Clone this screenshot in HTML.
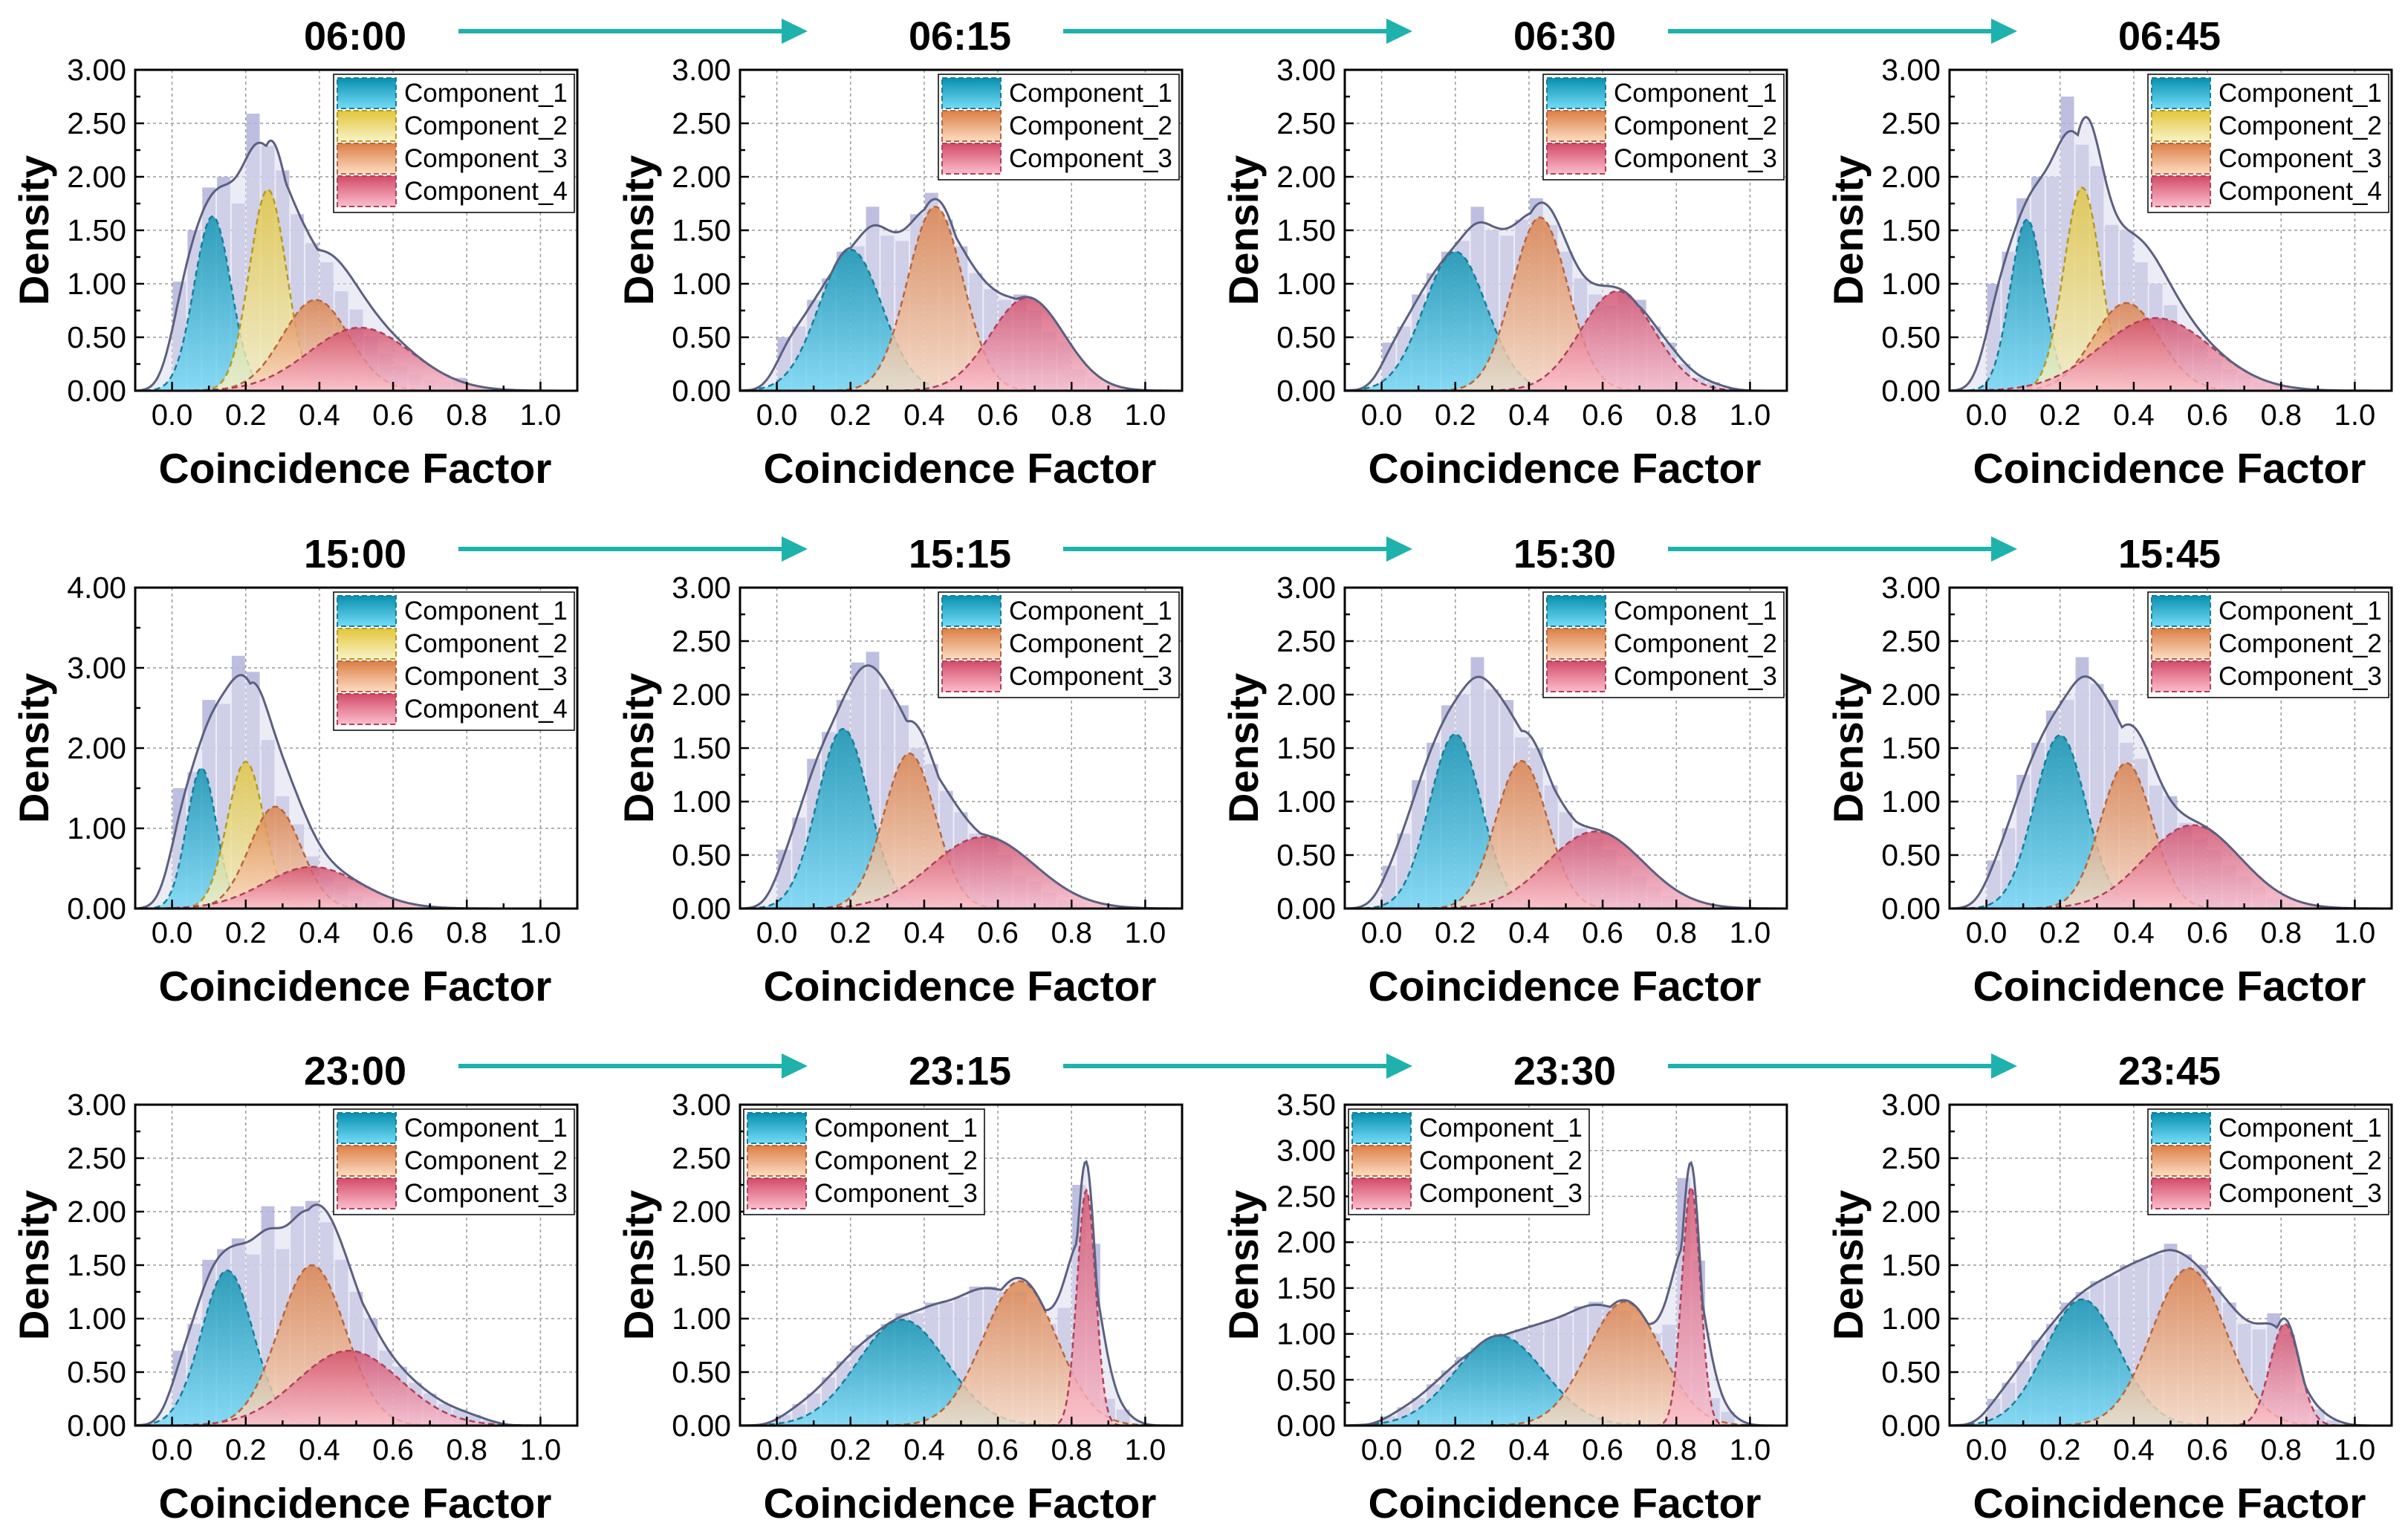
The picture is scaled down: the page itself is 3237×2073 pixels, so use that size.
<!DOCTYPE html>
<html><head><meta charset="utf-8"><style>
html,body{margin:0;padding:0;background:#fff;}
svg{display:block;}
text{font-family:"Liberation Sans",Arial,sans-serif;}
</style></head><body>
<svg id="fig" width="3237" height="2073" viewBox="0 0 3237 2073" xmlns="http://www.w3.org/2000/svg">
<defs>
<linearGradient id="g-c1" x1="0" y1="0" x2="0" y2="1"><stop offset="0" stop-color="#0790ae"/><stop offset="1" stop-color="#74dbf7"/></linearGradient>
<linearGradient id="g-c2" x1="0" y1="0" x2="0" y2="1"><stop offset="0" stop-color="#e2c63a"/><stop offset="1" stop-color="#f9f2c6"/></linearGradient>
<linearGradient id="g-c3" x1="0" y1="0" x2="0" y2="1"><stop offset="0" stop-color="#dc7f45"/><stop offset="1" stop-color="#fcdcc2"/></linearGradient>
<linearGradient id="g-c4" x1="0" y1="0" x2="0" y2="1"><stop offset="0" stop-color="#d24b68"/><stop offset="1" stop-color="#fbbdcc"/></linearGradient>
</defs>
</svg>
<script>
// ---- data ----
const panelTitles = ["06:00","06:15","06:30","06:45","15:00","15:15","15:30","15:45","23:00","23:15","23:30","23:45"];
const yMaxes = [3,3,3,3,4,3,3,3,3,3,3.5,3];
const yMajorSteps = [0.5,0.5,0.5,0.5,1,0.5,0.5,0.5,0.5,0.5,0.5,0.5];
const xTicks = [0.0,0.2,0.4,0.6,0.8,1.0];
const binWidth = 0.04;
const compColors = [[0,1,2,3],[0,2,3],[0,2,3],[0,1,2,3],[0,1,2,3],[0,2,3],[0,2,3],[0,2,3],[0,2,3],[0,2,3],[0,2,3],[0,2,3]];
const legendLeft = [false,false,false,false,false,false,false,false,false,true,true,false];
const compMeans = [[0.11,0.26,0.39,0.51],[0.20,0.43,0.68],[0.20,0.43,0.64],[0.11,0.26,0.38,0.46],[0.08,0.20,0.28,0.38],[0.18,0.36,0.56],[0.20,0.38,0.58],[0.20,0.38,0.56],[0.15,0.38,0.48],[0.34,0.66,0.84],[0.32,0.66,0.84],[0.26,0.55,0.81]];
const compSds = [[0.05,0.05,0.09,0.14],[0.085,0.075,0.10],[0.085,0.075,0.10],[0.045,0.05,0.09,0.15],[0.04,0.05,0.07,0.13],[0.07,0.07,0.14],[0.07,0.07,0.13],[0.07,0.07,0.13],[0.07,0.09,0.14],[0.12,0.10,0.025],[0.12,0.10,0.025],[0.10,0.10,0.04]];
const compPeaks = [[1.63,1.88,0.85,0.59],[1.32,1.72,0.87],[1.30,1.62,0.93],[1.60,1.90,0.82,0.68],[1.75,1.83,1.27,0.52],[1.68,1.45,0.67],[1.63,1.38,0.72],[1.62,1.36,0.78],[1.45,1.50,0.70],[0.99,1.35,2.20],[0.98,1.35,2.60],[1.18,1.47,0.95]];
const hist0 = [1.02,1.5,1.9,2.0,1.75,2.59,2.29,2.06,1.65,1.38,1.2,0.93,0.76,0.51,0.35,0.23,0.15,0.1,0.08,0.12,0.03,0,0,0,0,0,0];
const hist1 = [0.5,0.6,0.85,1.05,1.3,1.35,1.72,1.45,1.4,1.65,1.85,1.6,1.35,1.1,0.95,0.85,0.9,0.75,0.55,0.45,0.2,0.12,0.05,0.02,0,0,0];
const hist2 = [0.45,0.6,0.9,1.1,1.3,1.4,1.72,1.5,1.45,1.6,1.8,1.55,1.3,1.05,0.9,0.8,0.9,0.85,0.6,0.45,0.25,0.12,0.08,0.02,0,0,0];
const hist3 = [1.0,1.3,1.8,2.0,2.0,2.75,2.3,2.1,1.55,1.5,1.2,1.0,0.8,0.55,0.45,0.3,0.2,0.15,0.08,0.05,0.03,0,0,0,0,0,0];
const hist4 = [1.5,1.7,2.6,2.55,3.15,2.95,2.1,1.4,1.05,0.65,0.4,0.3,0.15,0.1,0.05,0.02,0,0,0,0,0,0,0,0,0,0,0];
const hist5 = [0.55,0.85,1.4,1.65,1.95,2.3,2.4,2.05,1.9,1.5,1.35,1.1,0.9,0.7,0.65,0.5,0.3,0.25,0.15,0.08,0.05,0,0,0,0,0,0];
const hist6 = [0.4,0.7,1.2,1.55,1.9,2.0,2.35,2.05,1.95,1.6,1.5,1.15,0.9,0.75,0.65,0.55,0.4,0.3,0.2,0.12,0.05,0,0,0,0,0,0];
const hist7 = [0.45,0.75,1.25,1.55,1.85,1.95,2.35,2.1,1.95,1.55,1.4,1.15,1.05,0.8,0.65,0.55,0.4,0.3,0.2,0.1,0.05,0,0,0,0,0,0];
const hist8 = [0.7,0.95,1.55,1.65,1.75,1.6,2.05,1.65,2.05,2.1,1.9,1.55,1.25,1.0,0.7,0.55,0.4,0.3,0.2,0.15,0.1,0.05,0,0,0,0,0];
const hist9 = [0.1,0.2,0.3,0.45,0.6,0.75,0.85,0.95,1.05,1.05,1.15,1.15,1.2,1.3,1.3,1.25,1.25,1.15,0.95,1.1,2.25,1.7,0.25,0.15,0,0,0];
const hist10 = [0.1,0.2,0.3,0.45,0.6,0.75,0.85,0.95,1.0,1.05,1.1,1.15,1.2,1.3,1.35,1.3,1.25,1.15,1.0,1.1,2.7,1.8,0.3,0.15,0,0,0];
const hist11 = [0.25,0.4,0.6,0.8,0.95,1.15,1.25,1.35,1.4,1.5,1.55,1.6,1.7,1.6,1.5,1.3,1.15,0.95,0.9,1.05,0.85,0.3,0.15,0.05,0,0,0];
const hists = [hist0,hist1,hist2,hist3,hist4,hist5,hist6,hist7,hist8,hist9,hist10,hist11];
const kdeBandwidth = 0.035;

// ---- layout ----
const NS = "http://www.w3.org/2000/svg";
const svg = document.getElementById('fig');
const colLeft = [182,996,1810,2624];
const rowTop = [94,791,1487];
const PW = 595, PH = 432, XMIN = -0.1, XMAX = 1.1;
const strokeCols = ["#157f99","#b59a22","#b8663a","#b0405a"];
const gradIds = ["g-c1","g-c2","g-c3","g-c4"];
function mk(tag, attrs, parent){ const e=document.createElementNS(NS,tag); for(const k in attrs) e.setAttribute(k,attrs[k]); (parent||svg).appendChild(e); return e; }
function gauss(x,m,s,p){ return p*Math.exp(-0.5*((x-m)/s)**2); }

for(let p=0;p<12;p++){
  const L = colLeft[p%4], T = rowTop[Math.floor(p/4)];
  const ymax = yMaxes[p];
  const X = v => L + (v-XMIN)/(XMAX-XMIN)*PW;
  const Y = v => T + PH - v/ymax*PH;
  const g = mk('g',{});
  
  
  const tt = mk('text',{x:L+296,y:T-27,'text-anchor':'middle','font-size':54,'font-weight':'bold'},g);
  tt.textContent = panelTitles[p];
  
  
  if(p%4!==3){
    const ar = mk('line',{x1:L+435,y1:T-52,x2:L+880,y2:T-52,stroke:'#1fb2ad','stroke-width':6},g);
    
    
    mk('path',{d:`M${L+870},${T-69} L${L+905},${T-52} L${L+870},${T-35} z`,fill:'#1fb2ad'},g);
  }
  const cp = mk('clipPath',{id:'clip'+p},g);
  mk('rect',{x:L,y:T,width:PW,height:PH},cp);
  const step = yMajorSteps[p];
  for(let v=step; v<ymax-1e-9; v+=step){
    const gl = mk('line',{x1:L,x2:L+PW,y1:Y(v),y2:Y(v),stroke:'#9a9a9a','stroke-width':1.5,'stroke-dasharray':'4,4'},g);
    
    
  }
  for(const v of xTicks){
    const gl = mk('line',{x1:X(v),x2:X(v),y1:T,y2:T+PH,stroke:'#9a9a9a','stroke-width':1.5,'stroke-dasharray':'4,4'},g);
    
    
  }
  const inner = mk('g',{'clip-path':`url(#clip${p})`},g);
  const h = hists[p];
  for(let i=0;i<h.length;i++){
    if(h[i]<=0) continue;
    const b = mk('rect',{x:X(i*binWidth)+1,y:Y(h[i]),width:X(binWidth)-X(0)-2,height:Y(0)-Y(h[i]),fill:'#b3b3dc','fill-opacity':0.85},inner);
    
    
  }
  const ms = compMeans[p], ss = compSds[p], ps = compPeaks[p];
  const N = 300;
  let tot = [];
  for(let k=0;k<=N;k++){
    const x = XMIN + (XMAX-XMIN)*k/N;
    let s = 0; for(let c=0;c<ms.length;c++) s += gauss(x,ms[c],ss[c],ps[c]);
    let kde = 0;
    for(let i=0;i<h.length;i++){
      const ctr = (i+0.5)*binWidth;
      kde += h[i]*binWidth*Math.exp(-0.5*((x-ctr)/kdeBandwidth)**2)/(kdeBandwidth*Math.sqrt(2*Math.PI));
    }
    tot.push([X(x),Y(Math.max(s,kde))]);
  }
  const totPts = tot.map(q=>q[0].toFixed(1)+','+q[1].toFixed(1)).join(' L');
  const tf = mk('path',{d:`M${X(XMIN)},${Y(0)} L${totPts} L${X(XMAX)},${Y(0)} z`,fill:'#dcdcee','fill-opacity':0.55},inner);
  
  
  for(let c=0;c<ms.length;c++){
    let pts=[];
    for(let k=0;k<=N;k++){ const x = XMIN+(XMAX-XMIN)*k/N; pts.push(X(x).toFixed(1)+','+Y(gauss(x,ms[c],ss[c],ps[c])).toFixed(1)); }
    const ci = compColors[p][c];
    const cpth = mk('path',{d:`M${X(XMIN)},${Y(0)} L${pts.join(' L')} L${X(XMAX)},${Y(0)} z`,fill:`url(#${gradIds[ci]})`,'fill-opacity':0.8,stroke:strokeCols[ci],'stroke-width':2.5,'stroke-dasharray':'8,5'},inner);
    
    
  }
  const tl = mk('path',{d:`M${totPts}`,fill:'none',stroke:'#5b6080','stroke-width':3},inner);
  
  
  const fr = mk('rect',{x:L,y:T,width:PW,height:PH,fill:'none',stroke:'#000','stroke-width':3},g);
  
  
  for(let v=0; v<=ymax+1e-9; v+=step/2){
    const major = Math.abs(v/step-Math.round(v/step))<1e-6;
    mk('line',{x1:L,x2:L+(major?12:7),y1:Y(v),y2:Y(v),stroke:'#000','stroke-width':2.5},g);
    if(major){
      const t = mk('text',{x:L-12,y:Y(v)+14,'text-anchor':'end','font-size':41},g);
      t.textContent = v.toFixed(2);
      
      
    }
  }
  for(const v of xTicks){
    mk('line',{x1:X(v),x2:X(v),y1:T+PH,y2:T+PH-12,stroke:'#000','stroke-width':2.5},g);
    const t = mk('text',{x:X(v),y:T+PH+46,'text-anchor':'middle','font-size':40},g);
    t.textContent = v.toFixed(1);
    
    
  }
  for(let v=0.1; v<1.1; v+=0.2){ mk('line',{x1:X(v),x2:X(v),y1:T+PH,y2:T+PH-7,stroke:'#000','stroke-width':2.5},g); }
  const xt = mk('text',{x:L+296,y:T+PH+124,'text-anchor':'middle','font-size':57,'font-weight':'bold'},g);
  xt.textContent = 'Coincidence Factor';
  
  
  const yt = mk('text',{x:0,y:0,'text-anchor':'middle','font-size':56,'font-weight':'bold',transform:`translate(${L-117},${T+PH/2}) rotate(-90)`},g);
  yt.textContent = 'Density';
  
  
  const nC = ms.length, LW = 324, LH = nC*44+10;
  const lx = legendLeft[p] ? L+5 : L+PW-LW-4, ly = T+6;
  const lg = mk('g',{},g);
  
  
  mk('rect',{x:lx,y:ly,width:LW,height:LH,fill:'#fff',stroke:'#000','stroke-width':1.5},lg);
  for(let c=0;c<nC;c++){
    const ci = compColors[p][c];
    const ey = ly+5+c*44;
    const sw = mk('rect',{x:lx+5,y:ey,width:79,height:41,fill:`url(#${gradIds[ci]})`,stroke:strokeCols[ci],'stroke-width':2,'stroke-dasharray':'7,4'},lg);
    
    
    const lt = mk('text',{x:lx+95,y:ey+32,'font-size':35},lg);
    lt.textContent = 'Component_'+(c+1);
    
    
  }
}
</script>
</body></html>
